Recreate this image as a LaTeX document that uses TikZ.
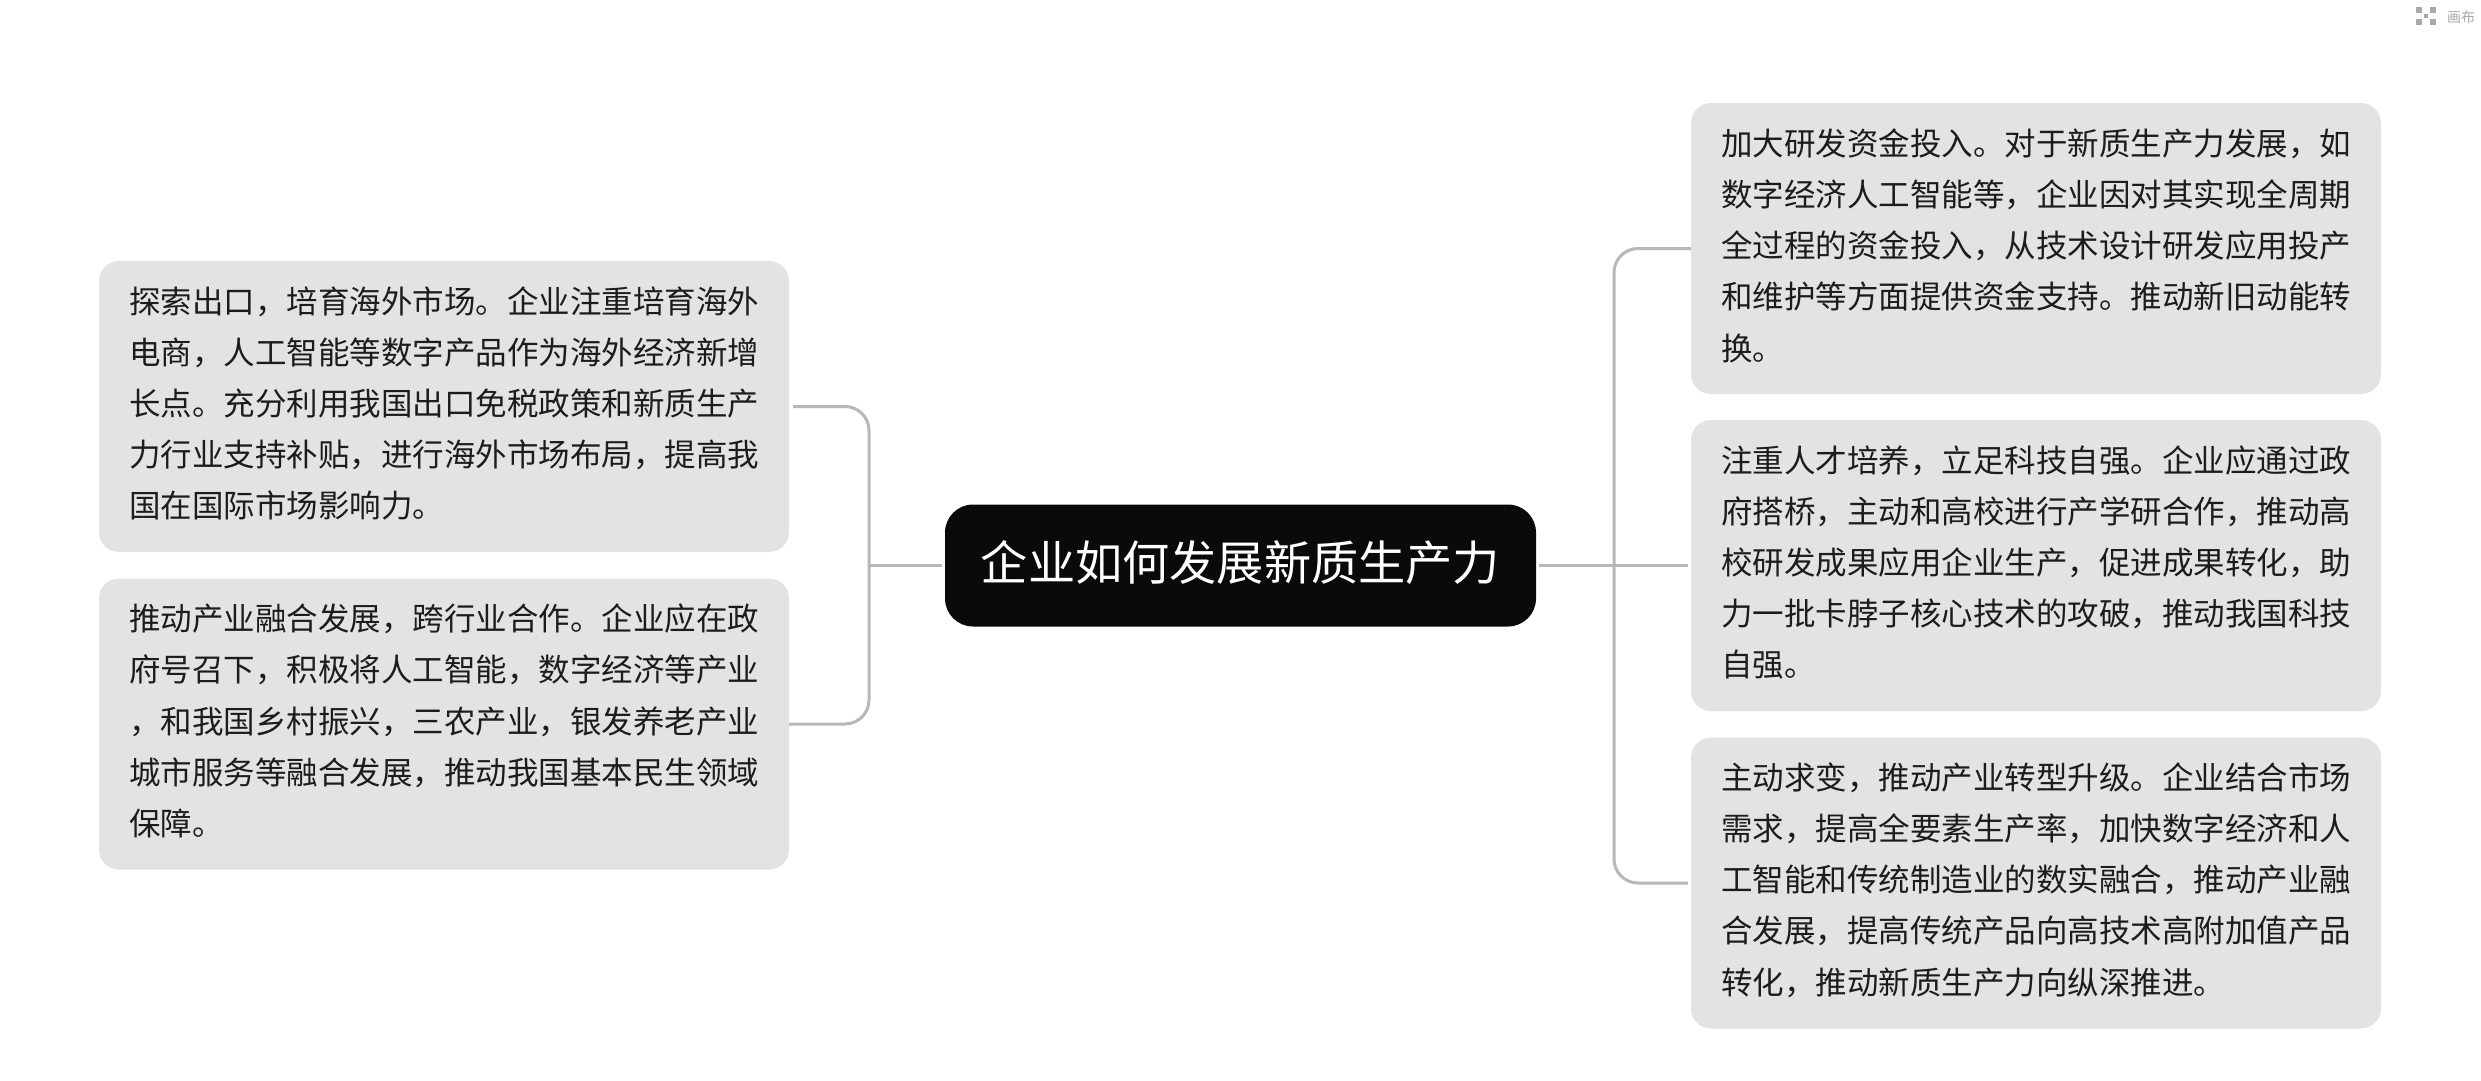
\documentclass[tikz,border=0pt]{standalone}
\usepackage{fontspec}
\setmainfont{Noto Sans CJK SC}
\begin{document}
\begin{tikzpicture}[x=1pt,y=-1pt,
  leaf/.style={draw=none,fill=leafgray,rounded corners=20pt,minimum width=690pt,minimum height=291pt,
    inner xsep=30pt,inner ysep=0pt,text width=630pt,align=left,text=inktext,
    font=\fontsize{31.5}{51.2}\selectfont,execute at end node={\endgraf\vspace{6pt}}},
  root/.style={fill=rootblack,rounded corners=28pt,minimum width=591pt,minimum height=122pt,inner sep=0pt,
    text=white,font=\fontsize{47.2}{56}\selectfont},
  conn/.style={draw=conngray,line width=3pt,rounded corners=24pt},
  tip/.style={text=tipgray,inner sep=0pt,font=\fontsize{14}{16}\selectfont},
  icondot/.style={fill=tipgray,draw=none,rectangle,minimum size=6pt,inner sep=0pt},
]
\definecolor{leafgray}{HTML}{E3E3E3}
\definecolor{rootblack}{HTML}{0A0A0A}
\definecolor{conngray}{HTML}{B8B8B8}
\definecolor{inktext}{HTML}{1C1C1C}
\definecolor{tipgray}{HTML}{A8A8A8}
\useasboundingbox (0,0) rectangle (2481,1080);
\fill[white] (0,0) rectangle (2481,1080);
\node[root] (c) at (1240.5,565.5) {\raisebox{10pt}{企业如何发展新质生产力}};
\node[leaf] (l1) at (444,406.5) {探索出口，培育海外市场。企业注重培育海外\\电商，人工智能等数字产品作为海外经济新增\\长点。充分利用我国出口免税政策和新质生产\\力行业支持补贴，进行海外市场布局，提高我\\国在国际市场影响力。};
\node[leaf] (l2) at (444,724) {推动产业融合发展，跨行业合作。企业应在政\\府号召下，积极将人工智能，数字经济等产业\\，和我国乡村振兴，三农产业，银发养老产业\\城市服务等融合发展，推动我国基本民生领域\\保障。};
\node[leaf] (r1) at (2036,248.5) {加大研发资金投入。对于新质生产力发展，如\\数字经济人工智能等，企业因对其实现全周期\\全过程的资金投入，从技术设计研发应用投产\\和维护等方面提供资金支持。推动新旧动能转\\换。};
\node[leaf] (r2) at (2036,565.5) {注重人才培养，立足科技自强。企业应通过政\\府搭桥，主动和高校进行产学研合作，推动高\\校研发成果应用企业生产，促进成果转化，助\\力一批卡脖子核心技术的攻破，推动我国科技\\自强。};
\node[leaf] (r3) at (2036,883) {主动求变，推动产业转型升级。企业结合市场\\需求，提高全要素生产率，加快数字经济和人\\工智能和传统制造业的数实融合，推动产业融\\合发展，提高传统产品向高技术高附加值产品\\转化，推动新质生产力向纵深推进。};
\coordinate (sl) at (869,565.5);
\coordinate (sr) at (1614,565.5);
\draw[conn,shorten <=4pt] (l1.east) -| (sl) |- (l2.east);
\draw[conn,rounded corners=0pt,shorten >=3pt] (sl) -- (c.west);
\draw[conn,shorten >=3pt] (r1.west) -| (sr) |- (r3.west);
\draw[conn,rounded corners=0pt,shorten <=3pt,shorten >=3pt] (c.east) -- (r2.west);
\node[icondot] (i1) at (2419,10) {};
\node[icondot] (i2) at (2433,10) {};
\node[icondot] (i3) at (2419,22) {};
\node[icondot] (i4) at (2433,22) {};
\node[icondot,minimum size=4pt] (i5) at (2426,16) {};
\node[tip] (t) at (2461,17) {画布};
\end{tikzpicture}
\end{document}
